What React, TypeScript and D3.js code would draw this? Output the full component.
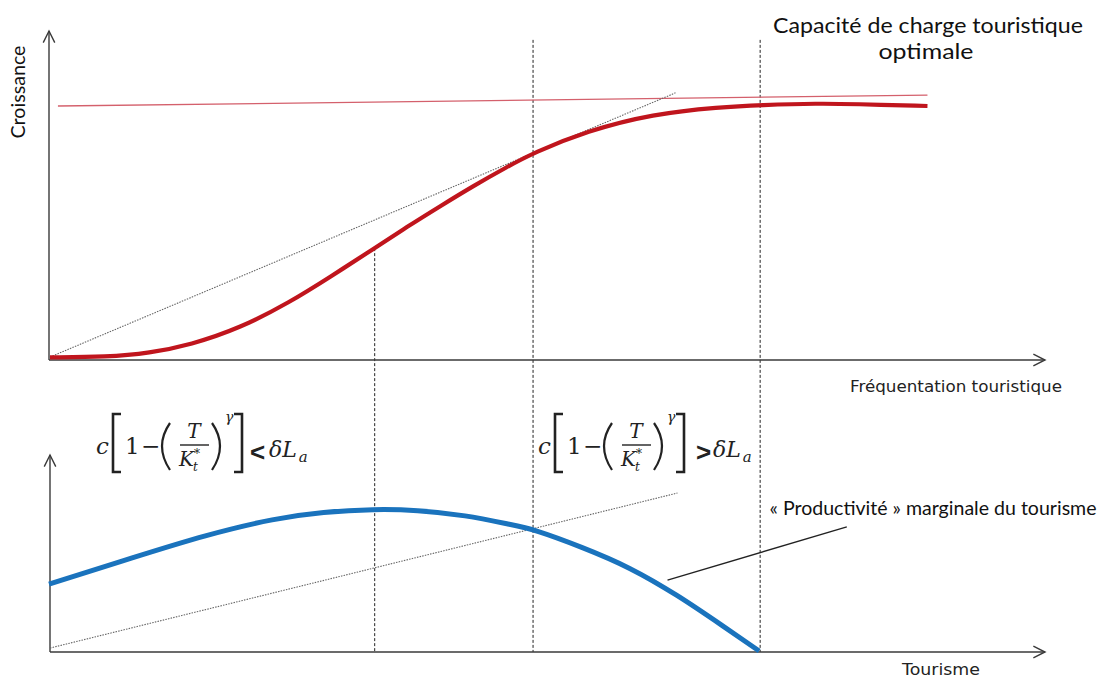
import React from "react";
import * as d3 from "d3";

// ---- Data (abstract units: x 0..100, y 0..100 in each panel) ----
const growthX = [0.1, 5.8, 10.1, 14.2, 19.2, 24.2, 28.2, 32.7, 35.9, 39.3, 42.6, 46.0, 48.6, 54.0, 60.6, 67.4, 71.4, 77.4, 80.7, 88.2];
const growthY = [0.8, 0.9, 2.1, 4.6, 9.7, 17.6, 25.2, 34.0, 40.4, 46.8, 52.9, 58.7, 62.9, 69.6, 74.8, 76.9, 77.5, 78.0, 77.8, 77.2];

const capacityX = [0.9, 88.2];
const capacityY = [77.2, 80.5];

const tangentTopX = [0.1, 62.9];
const tangentTopY = [0.9, 81.2];

const marginalX = [0.0, 8.6, 15.7, 22.8, 27.5, 32.7, 36.9, 41.8, 46.5, 48.6, 53.5, 58.3, 63.1, 67.8, 71.3];
const marginalY = [34.5, 48.2, 59.4, 68.0, 71.1, 72.6, 72.1, 69.5, 64.5, 62.4, 53.3, 43.1, 28.9, 12.7, 0.5];

const costX = [0.1, 63.1];
const costY = [2.0, 80.7];

const pointerX = [62.1, 80.1];
const pointerY = [36.5, 63.5];

// vertical reference lines: x, top-panel start value
const refX = [32.7, 48.6, 71.4];
const refTopY = [34.0, 97.3, 97.3];

const labels = {
  yTop: "Croissance",
  xTop: "Fréquentation touristique",
  xBottom: "Tourisme",
  capacity1: "Capacité de charge touristique",
  capacity2: "optimale",
  marginal: "« Productivité » marginale du tourisme",
};

const W = 1106;
const H = 686;

const x = d3.scaleLinear().domain([0, 100]).range([49, 1045]);
const yTop = d3.scaleLinear().domain([0, 100]).range([360, 31]);
const yBot = d3.scaleLinear().domain([0, 100]).range([652, 455]);

const zip = (xs: number[], ys: number[]) => xs.map((v, i) => [v, ys[i]] as [number, number]);

const SANS = "Lato, 'Open Sans', sans-serif";
const VERD = "'DejaVu Sans', sans-serif";
const MATH = "'DejaVu Serif', serif";

function Formula({ x0, rel, relDx, relTextDx }: { x0: number; rel: string; relDx: number; relTextDx: number }) {
  const by = 454;
  const col = "#222";
  return (
    <g fill={col} fontFamily={MATH}>
      <text x={x0} y={by} fontSize={23} fontStyle="italic">c</text>
      <path d={`M${x0 + 25},414 L${x0 + 17},414 L${x0 + 17},472 L${x0 + 25},472`} fill="none" stroke={col} strokeWidth={2.6} />
      <text x={x0 + 29} y={by} fontSize={23}>1</text>
      <text x={x0 + 45} y={by} fontSize={23}>−</text>
      <path d={`M${x0 + 74},423 Q${x0 + 58},446 ${x0 + 74},470`} fill="none" stroke={col} strokeWidth={2.2} />
      <text x={x0 + 98} y={438} fontSize={20} fontStyle="italic" textAnchor="middle">T</text>
      <line x1={x0 + 84} x2={x0 + 113} y1={445} y2={445} stroke={col} strokeWidth={1.4} />
      <text x={x0 + 83} y={466} fontSize={20} fontStyle="italic">
        K<tspan fontSize={12} dy={-8}>*</tspan>
        <tspan fontSize={12} dx={-7} dy={13}>t</tspan>
      </text>
      <path d={`M${x0 + 116},423 Q${x0 + 132},446 ${x0 + 116},470`} fill="none" stroke={col} strokeWidth={2.2} />
      <text x={x0 + 129} y={422} fontSize={14} fontStyle="italic">γ</text>
      <path d={`M${x0 + 138},414 L${x0 + 146},414 L${x0 + 146},472 L${x0 + 138},472`} fill="none" stroke={col} strokeWidth={2.6} />
      <text x={x0 + relDx} y={461} fontSize={26} fontWeight="bold" fontFamily="'Liberation Sans', Arial, sans-serif">{rel}</text>
      <text x={x0 + relTextDx} y={457} fontSize={22} fontStyle="italic">
        δL<tspan fontSize={15} dx={2} dy={5}>a</tspan>
      </text>
    </g>
  );
}

function Arrow({ x1, y1, x2, y2 }: { x1: number; y1: number; x2: number; y2: number }) {
  const ang = Math.atan2(y2 - y1, x2 - x1);
  const len = 13;
  const spread = 0.46;
  const a1 = [x2 - len * Math.cos(ang - spread), y2 - len * Math.sin(ang - spread)];
  const a2 = [x2 - len * Math.cos(ang + spread), y2 - len * Math.sin(ang + spread)];
  return (
    <g stroke="#3a3a3a" strokeWidth={1.4} fill="none">
      <line x1={x1} y1={y1} x2={x2} y2={y2} />
      <path d={`M${a1[0]},${a1[1]} L${x2},${y2} L${a2[0]},${a2[1]}`} />
    </g>
  );
}

export default function App() {
  const lineTop = d3.line<[number, number]>().x((d) => x(d[0])).y((d) => yTop(d[1])).curve(d3.curveBasis);
  const lineBot = d3.line<[number, number]>().x((d) => x(d[0])).y((d) => yBot(d[1])).curve(d3.curveBasis);
  const straightTop = d3.line<[number, number]>().x((d) => x(d[0])).y((d) => yTop(d[1]));
  const straightBot = d3.line<[number, number]>().x((d) => x(d[0])).y((d) => yBot(d[1]));

  return (
    <svg width={W} height={H} style={{ position: "absolute", left: 0, top: 0, background: "#fff" }}>
      <rect width={W} height={H} fill="#fff" />
      {/* vertical dashed reference lines */}
      {refX.map((rx, i) => (
        <line key={i} x1={x(rx)} x2={x(rx)} y1={yTop(refTopY[i])} y2={yBot(0)} stroke="#222" strokeWidth={1} strokeDasharray="3,2" />
      ))}

      {/* axes */}
      <Arrow x1={x(0)} y1={yTop(0)} x2={x(0)} y2={yTop(100)} />
      <Arrow x1={x(0)} y1={yTop(0)} x2={x(100)} y2={yTop(0)} />
      <Arrow x1={x(0) + 1} y1={yBot(0)} x2={x(0) + 1} y2={yBot(100)} />
      <Arrow x1={x(0) + 1} y1={yBot(0)} x2={x(100)} y2={yBot(0)} />

      {/* top panel */}
      <path d={straightTop(zip(capacityX, capacityY)) || ""} stroke="#d4606c" strokeWidth={1.3} fill="none" />
      <path d={straightTop(zip(tangentTopX, tangentTopY)) || ""} stroke="#666" strokeWidth={1.1} strokeDasharray="1.5,1.2" fill="none" />
      <path d={lineTop(zip(growthX, growthY)) || ""} stroke="#c0151d" strokeWidth={4.2} fill="none" strokeLinecap="butt" />

      {/* bottom panel */}
      <path d={straightBot(zip(costX, costY)) || ""} stroke="#666" strokeWidth={1.1} strokeDasharray="1.5,1.2" fill="none" />
      <path d={lineBot(zip(marginalX, marginalY)) || ""} stroke="#1a73bd" strokeWidth={5} fill="none" />
      <path d={straightBot(zip(pointerX, pointerY)) || ""} stroke="#222" strokeWidth={1.4} fill="none" />

      {/* texts */}
      <text transform="translate(25,92) rotate(-90)" textAnchor="middle" fontFamily={SANS} fontSize={19} fill="#111" textLength={93} lengthAdjust="spacingAndGlyphs">{labels.yTop}</text>
      <text x={956} y={392} textAnchor="middle" fontFamily={VERD} fontSize={16.5} fill="#222" textLength={212} lengthAdjust="spacingAndGlyphs">{labels.xTop}</text>
      <text x={941} y={675} textAnchor="middle" fontFamily={VERD} fontSize={16.5} fill="#222" textLength={78} lengthAdjust="spacingAndGlyphs">{labels.xBottom}</text>
      <text x={928} y={33} textAnchor="middle" fontFamily={SANS} fontSize={21} fill="#111" textLength={310} lengthAdjust="spacingAndGlyphs">{labels.capacity1}</text>
      <text x={926} y={59} textAnchor="middle" fontFamily={SANS} fontSize={21} fill="#111" textLength={95} lengthAdjust="spacingAndGlyphs">{labels.capacity2}</text>
      <text x={933} y={515} textAnchor="middle" fontFamily={SANS} fontSize={19} fill="#111" textLength={327} lengthAdjust="spacingAndGlyphs">{labels.marginal}</text>

      <Formula x0={96} rel="<" relDx={154} relTextDx={173} />
      <Formula x0={538} rel=">" relDx={158} relTextDx={175} />
    </svg>
  );
}
